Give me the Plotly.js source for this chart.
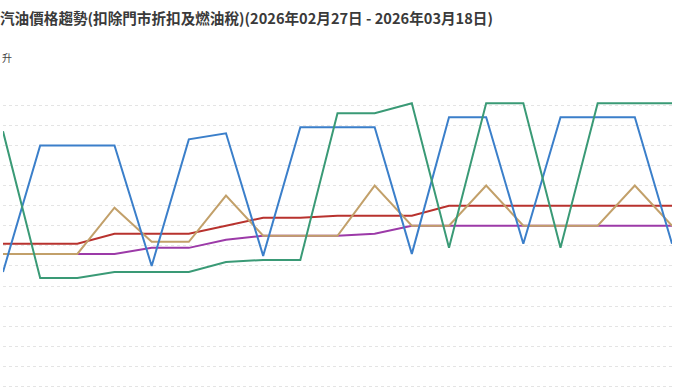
<!DOCTYPE html>
<html>
<head>
<meta charset="utf-8">
<script src="https://cdn.plot.ly/plotly-3.0.1.min.js"></script>
<style>
html,body{margin:0;padding:0;background:#fff;overflow:hidden;}
#chart{width:690px;height:388px;}
</style>
</head>
<body>
<div id="chart"></div>
<script>
// Dates (x categories)
const dates = ["02/28","03/01","03/02","03/03","03/04","03/05","03/06","03/07","03/08","03/09","03/10","03/11","03/12","03/13","03/14","03/15","03/16","03/17","03/18"];

// Series values (元/公升)
const seriesBlue   = [27.07, 27.70, 27.70, 27.70, 27.10, 27.73, 27.76, 27.15, 27.79, 27.79, 27.79, 27.16, 27.84, 27.84, 27.21, 27.84, 27.84, 27.84, 27.21];
const seriesGreen  = [27.77, 27.04, 27.04, 27.07, 27.07, 27.07, 27.12, 27.13, 27.13, 27.86, 27.86, 27.91, 27.19, 27.91, 27.91, 27.19, 27.91, 27.91, 27.91];
const seriesRed    = [27.21, 27.21, 27.21, 27.26, 27.26, 27.26, 27.30, 27.34, 27.34, 27.35, 27.35, 27.35, 27.40, 27.40, 27.40, 27.40, 27.40, 27.40, 27.40];
const seriesPurple = [27.16, 27.16, 27.16, 27.16, 27.19, 27.19, 27.23, 27.25, 27.25, 27.25, 27.26, 27.30, 27.30, 27.30, 27.30, 27.30, 27.30, 27.30, 27.30];
const seriesTan    = [27.16, 27.16, 27.16, 27.39, 27.22, 27.22, 27.45, 27.25, 27.25, 27.25, 27.50, 27.30, 27.30, 27.50, 27.30, 27.30, 27.30, 27.50, 27.30];

const seriesNames = ["加油站A", "加油站B", "加油站C", "加油站D", "加油站E"];
const titleText = "<b>汽油價格趨勢(扣除門市折扣及燃油稅)(2026年02月27日 - 2026年03月18日)</b>";
const unitText = "升";

function line(y, name, color) {
  return {x: dates, y: y, name: name, type: "scatter", mode: "lines",
          line: {color: color, width: 2}, hoverinfo: "x+y+name"};
}

const traces = [
  line(seriesRed, seriesNames[2], "#b8322e"),
  line(seriesPurple, seriesNames[3], "#9c3aa8"),
  line(seriesTan, seriesNames[4], "#c2a06a"),
  line(seriesBlue, seriesNames[0], "#3b7fca"),
  line(seriesGreen, seriesNames[1], "#3a9a76")
];

const layout = {
  width: 690, height: 388,
  margin: {l: 3, r: 18, t: 85, b: 0, pad: 0},
  paper_bgcolor: "#ffffff", plot_bgcolor: "#ffffff",
  showlegend: false,
  font: {family: "Noto Sans CJK TC, Noto Sans, sans-serif", color: "#333"},
  title: {text: titleText, font: {size: 14.6, color: "#3a3a3a", family: "Noto Sans CJK TC"},
          xref: "container", yref: "container", x: 0, xanchor: "left", y: 1 - 19/388, yanchor: "middle"},
  xaxis: {type: "category", range: [0, dates.length - 1], showgrid: false, zeroline: false,
          showline: false, showticklabels: false, ticks: "", fixedrange: true},
  yaxis: {range: [28.0 - 303/201, 28.0005], dtick: 0.1, tick0: 27, showgrid: true,
          gridcolor: "#e4e4e4", gridwidth: 1, griddash: "3px,3px", zeroline: false,
          showline: false, showticklabels: false, ticks: "", fixedrange: true},
  annotations: [{
    text: unitText, xref: "paper", yref: "paper", x: 0, y: 1 + (85 - 57)/303,
    xanchor: "left", yanchor: "middle", xshift: -3, showarrow: false,
    font: {size: 10, color: "#444444", family: "Noto Sans CJK TC"}
  }]
};

Plotly.newPlot("chart", traces, layout, {displayModeBar: false, staticPlot: true});
</script>
</body>
</html>
